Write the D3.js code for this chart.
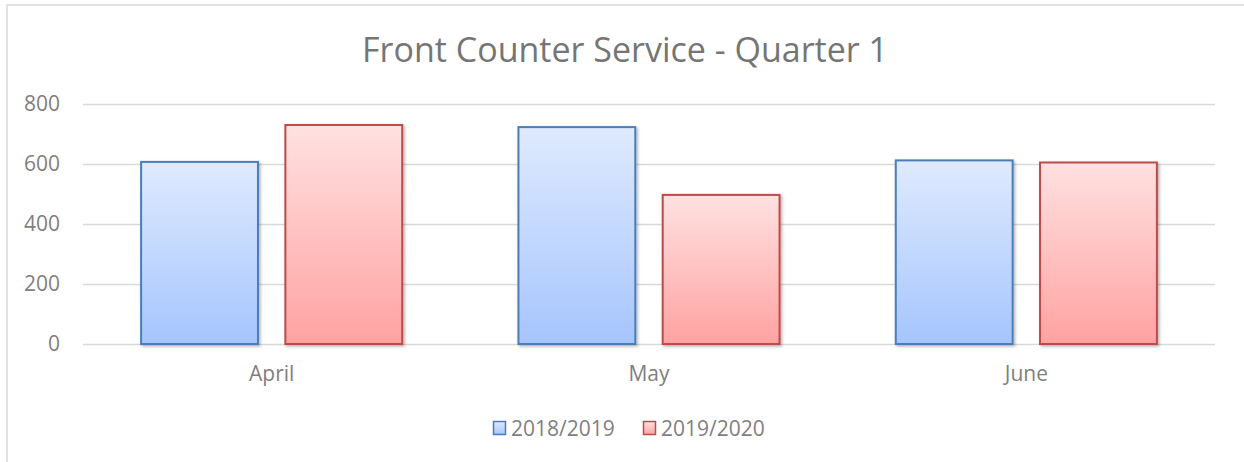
<!DOCTYPE html>
<html>
<head>
<meta charset="utf-8">
<script src="https://cdn.jsdelivr.net/npm/d3@7"></script>
<style>
  body { margin: 0; background: #fff; }
  text { font-family: "Open Sans", Lato, sans-serif; fill: #7f7f7f; }
</style>
</head>
<body>
<svg id="chart" width="1244" height="462"></svg>
<script>
var months = ["April", "May", "June"];
var seriesNames = ["2018/2019", "2019/2020"];
var values2018 = [607, 723, 612];
var values2019 = [730, 497, 605];
var yTicks = [0, 200, 400, 600, 800];

var margin = { top: 104, right: 29, bottom: 118, left: 83 };
var width = 1244, height = 462;
var labelFont = "\"Open Sans\", Lato, sans-serif";

var svg = d3.select("#chart");

var defs = svg.append("defs");
var gradients = [
  { id: "gradBlue", top: "#dfeafd", bottom: "#a6c5fd" },
  { id: "gradRed", top: "#ffe1e1", bottom: "#ffa2a2" }
];
gradients.forEach(function(g) {
  var lg = defs.append("linearGradient")
    .attr("id", g.id)
    .attr("x1", 0).attr("y1", 0).attr("x2", 0).attr("y2", 1);
  lg.append("stop").attr("offset", "0%").attr("stop-color", g.top);
  lg.append("stop").attr("offset", "100%").attr("stop-color", g.bottom);
});
defs.append("filter")
    .attr("id", "shadow")
    .attr("x", "-10%").attr("y", "-10%").attr("width", "130%").attr("height", "130%")
  .append("feDropShadow")
    .attr("dx", 1.5).attr("dy", 1.5).attr("stdDeviation", 1.5)
    .attr("flood-color", "#000").attr("flood-opacity", 0.3);

var fills = ["url(#gradBlue)", "url(#gradRed)"];
var strokes = ["#4a7ebb", "#be4b48"];

// chart frame
svg.append("rect")
  .attr("x", 7).attr("y", 5)
  .attr("width", 1260).attr("height", 480)
  .attr("fill", "none")
  .attr("stroke", "#d9d9d9")
  .attr("stroke-width", 1.5);

svg.append("text")
  .attr("x", 625).attr("y", 62)
  .attr("text-anchor", "middle")
  .style("font-size", "34px")
  .style("fill", "#757575")
  .text("Front Counter Service - Quarter 1");

var x0 = d3.scaleBand()
  .domain(months)
  .range([margin.left, width - margin.right])
  .paddingInner(0.308)
  .paddingOuter(0.154);

var x1 = d3.scaleBand()
  .domain(seriesNames)
  .range([0, x0.bandwidth()])
  .paddingInner(0.19);

var y = d3.scaleLinear()
  .domain([0, 800])
  .range([height - margin.bottom, margin.top]);

// gridlines
svg.append("g")
  .attr("transform", "translate(" + margin.left + ",0)")
  .call(d3.axisLeft(y).tickValues(yTicks).tickSize(-(width - margin.left - margin.right)).tickFormat(""))
  .call(function(g) {
    g.select(".domain").remove();
    g.selectAll("line").attr("stroke", "#d9d9d9").attr("stroke-width", 1.5);
  });

// y labels
svg.append("g")
  .attr("transform", "translate(" + margin.left + ",0)")
  .call(d3.axisLeft(y).tickValues(yTicks).tickSize(0).tickPadding(23))
  .call(function(g) {
    g.select(".domain").remove();
    g.selectAll("text").style("font-size", "21px").style("fill", "#7f7f7f")
      .style("font-family", labelFont);
  });

var data = months.map(function(m, i) {
  return { month: m, vals: [values2018[i], values2019[i]] };
});

var groups = svg.append("g").selectAll("g")
  .data(data)
  .enter()
  .append("g")
    .attr("transform", function(d) { return "translate(" + x0(d.month) + ",0)"; });

groups.selectAll("rect")
  .data(function(d) { return d.vals.map(function(v, i) { return { key: seriesNames[i], value: v, i: i }; }); })
  .enter()
  .append("rect")
    .attr("x", function(d) { return x1(d.key); })
    .attr("y", function(d) { return y(d.value); })
    .attr("width", x1.bandwidth())
    .attr("height", function(d) { return y(0) - y(d.value); })
    .attr("fill", function(d) { return fills[d.i]; })
    .attr("stroke", function(d) { return strokes[d.i]; })
    .attr("stroke-width", 2)
    .attr("filter", "url(#shadow)");

// x labels
svg.append("g")
  .attr("transform", "translate(0," + y(0) + ")")
  .call(d3.axisBottom(x0).tickSize(0).tickPadding(22))
  .call(function(g) {
    g.select(".domain").remove();
    g.selectAll("text").style("font-size", "21px").style("fill", "#7f7f7f")
      .style("font-family", labelFont);
  });

// legend
var legendX = [493, 643];
var legend = svg.append("g").selectAll("g")
  .data(seriesNames)
  .enter()
  .append("g")
    .attr("transform", function(d, i) { return "translate(" + legendX[i] + ",421)"; });

legend.append("rect")
  .attr("x", 0.5).attr("y", 0.5)
  .attr("width", 12).attr("height", 13)
  .attr("fill", function(d, i) { return fills[i]; })
  .attr("stroke", function(d, i) { return strokes[i]; })
  .attr("stroke-width", 1.5);

legend.append("text")
  .attr("x", 18).attr("y", 15)
  .style("font-size", "21px")
  .text(function(d) { return d; });
</script>
</body>
</html>
